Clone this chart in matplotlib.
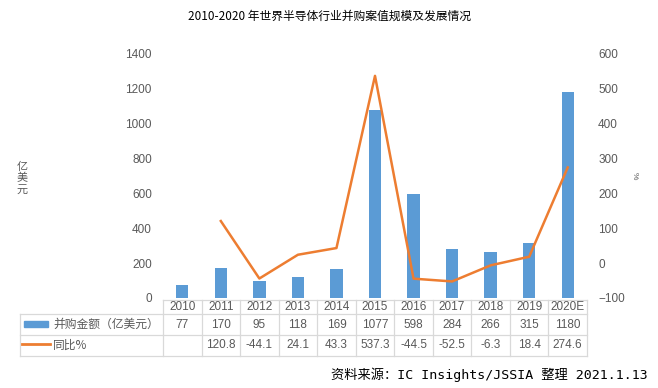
import numpy as np
import matplotlib
matplotlib.use("Agg")
import matplotlib.pyplot as plt
import matplotlib.transforms as mtransforms
from matplotlib.patches import Rectangle

plt.rcParams['font.family'] = ['Liberation Sans', 'Noto Sans CJK SC', 'DejaVu Sans']

years = ['2010', '2011', '2012', '2013', '2014', '2015', '2016', '2017', '2018', '2019', '2020E']
amount = [77, 170, 95, 118, 169, 1077, 598, 284, 266, 315, 1180]
growth = [np.nan, 120.8, -44.1, 24.1, 43.3, 537.3, -44.5, -52.5, -6.3, 18.4, 274.6]
growth_txt = ['', '120.8', '-44.1', '24.1', '43.3', '537.3', '-44.5', '-52.5', '-6.3', '18.4', '274.6']
row_names = ['并购金额（亿美元）', '同比%']

blue = '#5B9BD5'
orange = '#ED7D31'
grey = '#595959'
lc = '#D9D9D9'

fig = plt.figure(figsize=(6.58, 3.88), dpi=100)
ax = fig.add_axes([163/658, 1 - 298/388, (587-163)/658, (298-54)/388])
ax2 = ax.twinx()

x = np.arange(len(years))
ax.bar(x, amount, width=0.32, color=blue, zorder=2)
ax2.plot(x, growth, color=orange, lw=1.8, zorder=3)

ax.set_xlim(-0.5, len(years) - 0.5)
ax.set_ylim(0, 1400)
ax.set_yticks(range(0, 1401, 200))
ax2.set_ylim(-100, 600)
ax2.set_yticks(range(-100, 601, 100))
ax.set_xticks([])
for a in (ax, ax2):
    for s in a.spines.values():
        s.set_visible(False)
    a.tick_params(length=0, labelsize=8.5, labelcolor=grey, pad=8)
ax.set_zorder(ax2.get_zorder() - 1)
ax2.patch.set_visible(False)

# data table drawn by hand: x in data units, y in axes fraction
tr = mtransforms.blended_transform_factory(ax.transData, ax.transAxes)
col_w = 424 / len(years)           # px per category
lab_left = -0.5 - 143 / col_w      # row-label column left edge (data units)
def ypx(p):
    return (298 - p) / 244
y_head, y_r1, y_r2, y_bot = ypx(300), ypx(314), ypx(335), ypx(356)
right = len(years) - 0.5

kw = dict(transform=tr, color=lc, lw=0.9, clip_on=False)
ax.plot([-0.5, right], [y_head, y_head], **kw)
for yy in (y_r1, y_r2, y_bot):
    ax.plot([lab_left, right], [yy, yy], **kw)
ax.plot([lab_left, lab_left], [y_r1, y_bot], **kw)
for i in range(len(years) + 1):
    ax.plot([i - 0.5, i - 0.5], [y_head, y_bot], **kw)

rows = [[str(v) for v in amount], growth_txt]
for i, yr in enumerate(years):
    ax.text(i, (y_head + y_r1) / 2, yr, transform=tr, ha='center', va='center',
            fontsize=8.5, color=grey)
    ax.text(i, (y_r1 + y_r2) / 2, rows[0][i], transform=tr, ha='center', va='center',
            fontsize=8.5, color=grey)
    ax.text(i, (y_r2 + y_bot) / 2, rows[1][i], transform=tr, ha='center', va='center',
            fontsize=8.5, color=grey)

lab_x = lab_left + (53 - 20) / col_w
ax.text(lab_x, (y_r1 + y_r2) / 2, row_names[0], transform=tr, ha='left', va='center',
        fontsize=8.5, color=grey, family=['Noto Sans CJK SC'])
ax.text(lab_x, (y_r2 + y_bot) / 2, row_names[1], transform=tr, ha='left', va='center',
        fontsize=8.5, color=grey, family=['Noto Sans CJK SC'])

# legend keys inside the row label cells
ax.add_patch(Rectangle((lab_left + 4 / col_w, ypx(327)), 24 / col_w, 6 / 244,
                       transform=tr, color=blue, clip_on=False))
ax.plot([lab_left + 2 / col_w, lab_left + 30 / col_w], [ypx(344)] * 2,
        transform=tr, color=orange, lw=2.0, clip_on=False)

fig.text(329/658, 1 - 16/388, '2010-2020 年世界半导体行业并购案值规模及发展情况',
         ha='center', va='center', fontsize=8.5, color='black',
         family=['Noto Sans CJK SC', 'DejaVu Sans'])
fig.text(22/658, 1 - 178/388, '亿\n美\n元', ha='center', va='center',
         fontsize=8, color=grey, linespacing=1.15, family=['Noto Sans CJK SC'])
fig.text(634/658, 1 - 176/388, '%', ha='center', va='center', rotation=-90,
         fontsize=6, color=grey)
fig.text(648/658, 1 - 375/388, '资料来源：IC Insights/JSSIA 整理 2021.1.13',
         ha='right', va='center', fontsize=9.5, color='black',
         family=['DejaVu Sans Mono', 'Noto Sans CJK SC'])

fig.savefig('out.png', dpi=100)
